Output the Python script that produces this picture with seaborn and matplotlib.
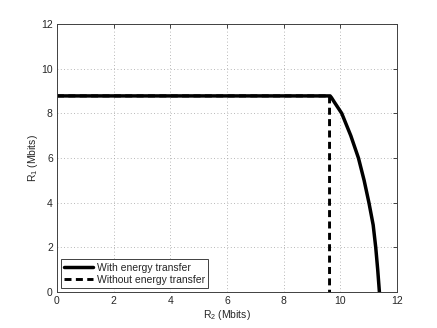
import pandas as pd
import seaborn as sns
import matplotlib.pyplot as plt

# data
with_x = [0, 9.64, 9.69, 9.79, 9.92, 10.05, 10.21, 10.37, 10.64,
          10.84, 11.01, 11.16, 11.25, 11.32, 11.38]
with_y = [8.78, 8.78, 8.7, 8.5, 8.25, 8.0, 7.5, 7.0, 6.0,
          5.0, 4.0, 3.0, 2.0, 1.0, 0.0]
without_x = [0, 9.62, 9.62]
without_y = [8.78, 8.78, 0.0]
ticks = [0, 2, 4, 6, 8, 10, 12]

sns.set_style("white")
plt.rcParams["font.family"] = ["Liberation Sans", "DejaVu Sans"]
plt.rcParams["mathtext.default"] = "regular"
plt.rcParams["font.size"] = 7.5

with_df = pd.DataFrame({"R2": with_x, "R1": with_y})
without_df = pd.DataFrame({"R2": without_x, "R1": without_y})

fig = plt.figure(figsize=(4.37, 3.28), dpi=100)
ax = fig.add_axes([0.1304, 0.1098, 0.778, 0.817])

# dashed first so the solid line hides it along the shared plateau
sns.lineplot(data=without_df, x="R2", y="R1", color="black", sort=False,
             estimator=None, linewidth=2.1, linestyle=(0, (2.4, 1.5)),
             snap=False, label="Without energy transfer", ax=ax)
sns.lineplot(data=with_df, x="R2", y="R1", color="black", sort=False,
             estimator=None, linewidth=2.5, snap=False,
             label="With energy transfer", ax=ax)

ax.set_xlim(0, 12)
ax.set_ylim(0, 12)
ax.set_xticks(ticks)
ax.set_yticks(ticks)
ax.grid(True, linestyle=(0, (1, 3)), color="#a0a0a0", linewidth=0.6)
ax.tick_params(direction="in", length=3, width=0.6, top=True, right=True,
               labelsize=7.5, colors="#262626", pad=3)
for s in ax.spines.values():
    s.set_color("#404040")
    s.set_linewidth(0.7)

ax.set_xlabel("R$_2$ (Mbits)", fontsize=7.5, labelpad=1)
ax.set_ylabel("R$_1$ (Mbits)", fontsize=7.5, labelpad=1)

handles, labels = ax.get_legend_handles_labels()
leg = ax.legend(handles[::-1], labels[::-1], loc="lower left", fontsize=7.5,
                frameon=True, fancybox=False, edgecolor="#404040", framealpha=1,
                borderpad=0.3, handlelength=2.8, handletextpad=0.3,
                labelspacing=0.2, borderaxespad=0.4)
leg.get_frame().set_linewidth(0.7)

plt.savefig("out.png", dpi=100)
